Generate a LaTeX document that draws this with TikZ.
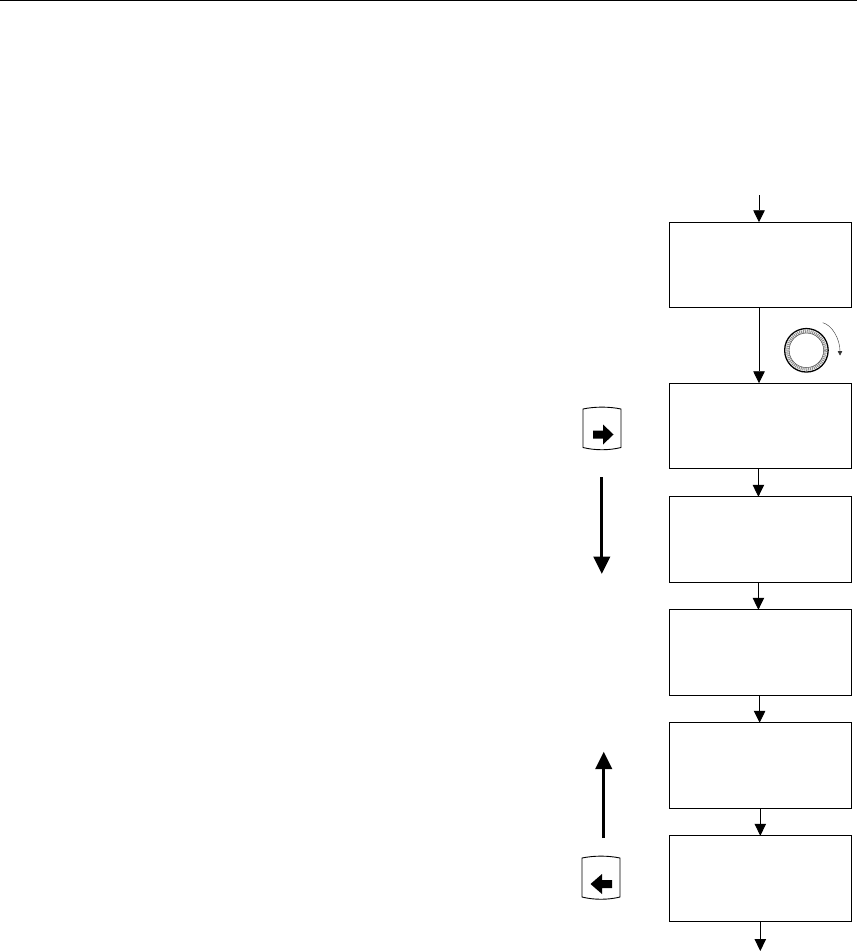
\documentclass[tikz,border=0pt]{standalone}
\usetikzlibrary{arrows.meta}
\tikzset{
  flowbox/.style={draw=black,line width=1pt,fill=white,minimum width=182pt,minimum height=85.5pt,inner sep=0pt,outer sep=0pt},
  flowarrow/.style={draw=black,line width=0.9pt,-{Triangle[length=12pt,width=11.5pt]}},
  bigarrow/.style={draw=black,line width=3pt,-{Triangle[length=17.5pt,width=16.5pt]}},
  keycap/.style={draw=black,line width=0.9pt,fill=white},
  keyglyph/.style={fill=black,draw=none},
}
\begin{document}
\begin{tikzpicture}[x=1pt,y=-1pt]
\useasboundingbox (0,0) rectangle (857,952);
\fill[white] (0,0) rectangle (857,952);
\coordinate (ruleL) at (0,0.7);
\coordinate (ruleR) at (857,0.7);
\draw[line width=1.1pt] (ruleL) -- (ruleR);
\node[flowbox] (b1) at (760,265) {};
\node[flowbox] (b2) at (760,426) {};
\node[flowbox] (b3) at (760,539.5) {};
\node[flowbox] (b4) at (760,652.5) {};
\node[flowbox] (b5) at (760,765.5) {};
\node[flowbox] (b6) at (760,878.5) {};
\coordinate (start) at (759,195);
\coordinate (xa) at (758.4,0);
\coordinate (xb) at (759.6,0);
\coordinate (finish) at (760.3,951);
\draw[flowarrow] (start) -- (start |- b1.north);
\draw[flowarrow] (start |- b1.south) -- (start |- b2.north);
\draw[flowarrow] (xa |- b2.south) -- (xa |- b3.north);
\draw[flowarrow] (xa |- b3.south) -- (xa |- b4.north);
\draw[flowarrow] (xb |- b4.south) -- (xb |- b5.north);
\draw[flowarrow] (finish |- b5.south) -- (finish |- b6.north);
\draw[flowarrow] (finish |- b6.south) -- (finish);
% knob
\node[circle,draw=black,line width=1.3pt,fill=white,minimum size=43.5pt,inner sep=0pt] (knob) at (806.4,350.3) {};
\node[circle,draw=black!45,line width=3pt,dash pattern=on 1pt off 0.9pt,minimum size=38pt,inner sep=0pt] (knobring) at (806.4,350.3) {};
\node[circle,draw=black!70,line width=0.5pt,minimum size=34.5pt,inner sep=0pt] (knobin) at (806.4,350.3) {};
\coordinate (turnA) at (822.7,322.7);
\coordinate (turnB) at (840,355.5);
\draw[line width=0.4pt,draw=black!80,-{Triangle[length=4.5pt,width=4.5pt]}] (turnA) .. controls (832,325) and (840,339) .. (turnB);
% right key
\draw[keycap] (583,409) .. controls (595,406.5) and (609,406.5) .. (621,409) -- (621,447.5) .. controls (609,450.5) and (595,450.5) .. (583,447.5) -- cycle;
\fill[keyglyph] (593,430.5) -- (603,430.5) -- (603,424.5) -- (613.5,434.5) -- (603,444.5) -- (603,438.5) -- (593,438.5) -- cycle;
\coordinate (downA) at (601.8,477);
\coordinate (downB) at (601.8,574);
\draw[bigarrow] (downA) -- (downB);
% left key
\draw[keycap] (582,858) .. controls (594,855.5) and (608,855.5) .. (620,858) -- (620,897) .. controls (608,900) and (594,900) .. (582,897) -- cycle;
\fill[keyglyph] (612,880) -- (602,880) -- (602,874) -- (590.5,884) -- (602,894) -- (602,888) -- (612,888) -- cycle;
\coordinate (upA) at (603.7,838);
\coordinate (upB) at (603.7,751.7);
\draw[bigarrow] (upA) -- (upB);
\end{tikzpicture}
\end{document}
